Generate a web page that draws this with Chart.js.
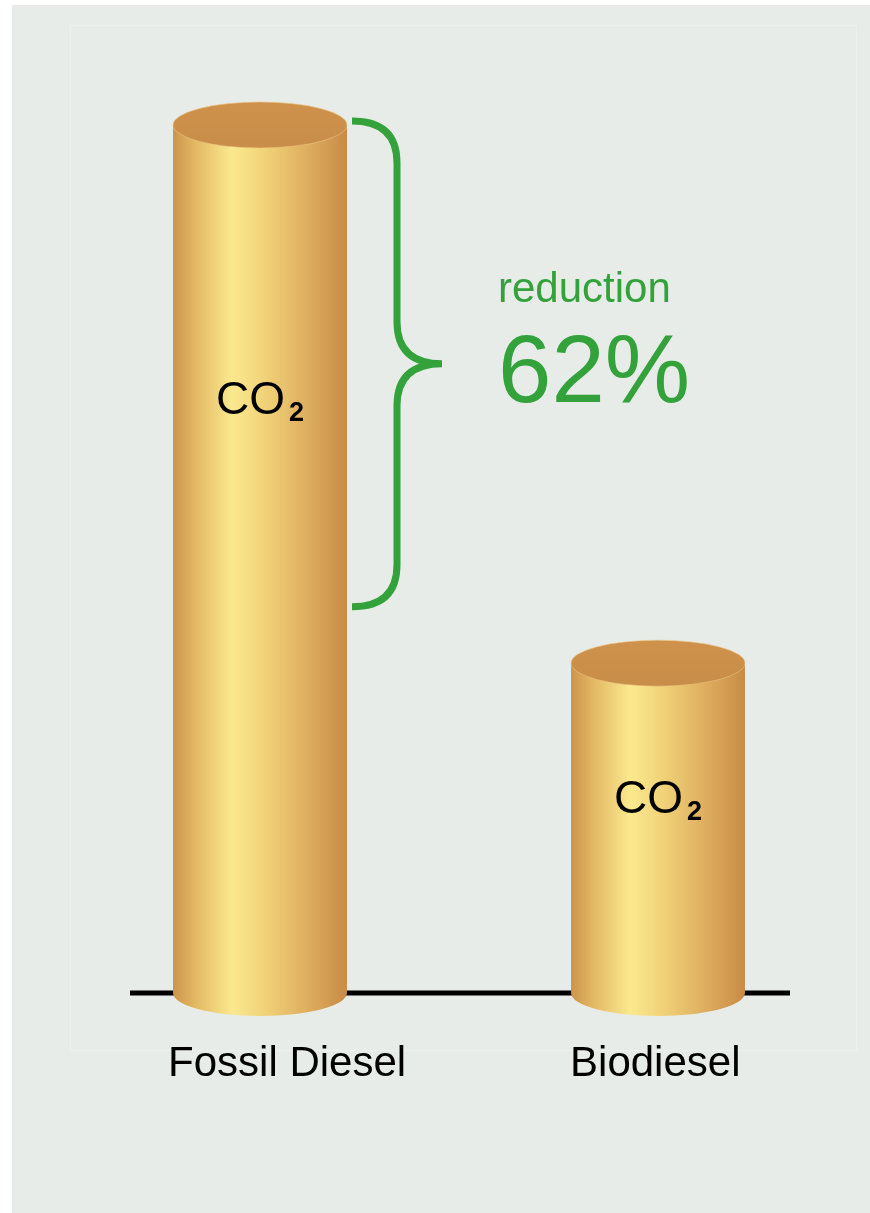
<!DOCTYPE html>
<html>
<head>
<meta charset="utf-8">
<script src="https://cdn.jsdelivr.net/npm/chart.js@4/dist/chart.umd.min.js"></script>
<style>
  html, body { margin: 0; padding: 0; background: #fff; }
  #wrap { width: 870px; height: 1213px; position: relative; }
</style>
</head>
<body>
<div id="wrap"><canvas id="co2"></canvas></div>
<script>
const categories = ["Fossil Diesel", "Biodiesel"];
const co2Values = [100, 38];
const reductionLabel = "reduction";
const reductionValue = "62%";

const GREEN = "#34a23b";
const FONT = "'Liberation Sans', Arial, Helvetica, sans-serif";

//========================================================================
const bodyGradient = (ctx, left, right) => {
  const g = ctx.createLinearGradient(left, 0, right, 0);
  g.addColorStop(0.00, "rgb(205,148,76)");
  g.addColorStop(0.12, "rgb(226,182,98)");
  g.addColorStop(0.34, "rgb(251,233,142)");
  g.addColorStop(0.55, "rgb(239,207,118)");
  g.addColorStop(0.85, "rgb(215,162,86)");
  g.addColorStop(1.00, "rgb(199,139,70)");
  return g;
};

const cylinderPlugin = {
  id: "cylinders",
  beforeDraw: chart => {
    const ctx = chart.ctx;
    ctx.save();
    ctx.fillStyle = "#ffffff";
    ctx.fillRect(0, 0, chart.width, chart.height);
    ctx.fillStyle = "#e7ece8";
    ctx.fillRect(12, 5, chart.width - 12, chart.height - 5);
    ctx.strokeStyle = "rgba(255,255,255,0.25)";
    ctx.lineWidth = 1;
    ctx.strokeRect(70.5, 25.5, 786, 1025);
    ctx.restore();
  },
  beforeDatasetsDraw: chart => {
    const ctx = chart.ctx;
    const y0 = chart.scales.y.getPixelForValue(0);
    ctx.save();
    ctx.strokeStyle = "#000";
    ctx.lineWidth = 5;
    ctx.beginPath();
    ctx.moveTo(130, y0);
    ctx.lineTo(790, y0);
    ctx.stroke();
    ctx.restore();
  },
  afterDatasetsDraw: chart => {
    const ctx = chart.ctx;
    const meta = chart.getDatasetMeta(0);
    const ry = 23;
    const yScale = chart.scales.y;

    meta.data.forEach((bar, i) => {
      const left = bar.x - bar.width / 2;
      const right = bar.x + bar.width / 2;
      const rx = bar.width / 2;
      const top = bar.y;
      const base = bar.base;

      ctx.save();
      // body
      ctx.beginPath();
      ctx.moveTo(left, top);
      ctx.lineTo(left, base);
      ctx.ellipse(bar.x, base, rx, ry, 0, Math.PI, 0, true);
      ctx.lineTo(right, top);
      ctx.closePath();
      ctx.fillStyle = bodyGradient(ctx, left, right);
      ctx.fill();

      // lid
      ctx.beginPath();
      ctx.ellipse(bar.x, top, rx, ry, 0, 0, Math.PI * 2);
      const lg = ctx.createLinearGradient(0, top - ry, 0, top + ry);
      lg.addColorStop(0, "rgb(206,146,76)");
      lg.addColorStop(1, "rgb(200,141,72)");
      ctx.fillStyle = lg;
      ctx.fill();
      ctx.strokeStyle = "rgba(236,196,130,0.6)";
      ctx.lineWidth = 1;
      ctx.stroke();

      // CO2 label
      const labelY = i === 0 ? top + 289 : top + 150;
      ctx.fillStyle = "#000";
      ctx.textBaseline = "alphabetic";
      ctx.font = "46px " + FONT;
      const w1 = ctx.measureText("CO").width;
      ctx.font = "bold 27px " + FONT;
      const w2 = ctx.measureText("2").width;
      const sx = bar.x - (w1 + w2 + 4) / 2;
      ctx.font = "46px " + FONT;
      ctx.textAlign = "left";
      ctx.fillText("CO", sx, labelY);
      ctx.font = "bold 27px " + FONT;
      ctx.fillText("2", sx + w1 + 4, labelY + 7);

      // category label
      ctx.font = "42px " + FONT;
      ctx.fillText(categories[i], left - (i === 0 ? 5 : 1), base + 83);
      ctx.restore();
    });

    // brace over the reduction
    const bx = 397;
    const yTop = yScale.getPixelForValue(co2Values[0]) - 4;
    const yBot = yScale.getPixelForValue(44.5);
    const yMid = (yTop + yBot) / 2;
    const x0 = 352;
    const tip = 442;
    const r = 42;
    ctx.save();
    ctx.strokeStyle = GREEN;
    ctx.lineWidth = 7;
    ctx.lineCap = "butt";
    ctx.beginPath();
    ctx.moveTo(x0, yTop);
    ctx.quadraticCurveTo(bx, yTop, bx, yTop + r);
    ctx.lineTo(bx, yMid - r);
    ctx.quadraticCurveTo(bx, yMid, tip, yMid);
    ctx.moveTo(tip, yMid);
    ctx.quadraticCurveTo(bx, yMid, bx, yMid + r);
    ctx.lineTo(bx, yBot - r);
    ctx.quadraticCurveTo(bx, yBot, x0, yBot);
    ctx.stroke();

    ctx.fillStyle = GREEN;
    ctx.textAlign = "left";
    ctx.textBaseline = "alphabetic";
    ctx.font = "42px " + FONT;
    ctx.fillText(reductionLabel, 498, 302);
    ctx.font = "96px " + FONT;
    ctx.fillText(reductionValue, 498, 402);
    ctx.restore();
  }
};

new Chart(document.getElementById("co2"), {
  type: "bar",
  data: {
    labels: categories,
    datasets: [{
      data: co2Values,
      backgroundColor: "rgba(0,0,0,0)",
      borderWidth: 0,
      barPercentage: 0.437,
      categoryPercentage: 1
    }]
  },
  options: {
    responsive: true,
    maintainAspectRatio: false,
    animation: false,
    events: [],
    layout: { padding: { top: 125, bottom: 220, left: 61, right: 13 } },
    plugins: { legend: { display: false }, tooltip: { enabled: false } },
    scales: {
      x: { display: false },
      y: { display: false, min: 0, max: 100 }
    }
  },
  plugins: [cylinderPlugin]
});
</script>
</body>
</html>
